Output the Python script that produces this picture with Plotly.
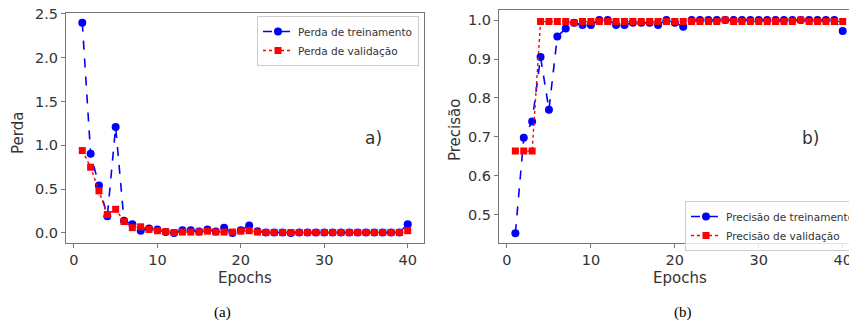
import plotly.graph_objects as go

W, H = 849, 324

epochs = list(range(1, 41))
train_loss = [2.40, 0.905, 0.54, 0.19, 1.21, 0.14, 0.10, 0.025, 0.05, 0.04,
              0.01, 0.0, 0.03, 0.03, 0.015, 0.04, 0.015, 0.06, 0.0, 0.03,
              0.085, 0.02, 0.005, 0.005, 0.005, 0.0, 0.005, 0.005, 0.005, 0.005,
              0.005, 0.005, 0.005, 0.005, 0.005, 0.005, 0.005, 0.005, 0.005, 0.10]
val_loss = [0.94, 0.75, 0.48, 0.21, 0.27, 0.13, 0.06, 0.07, 0.04, 0.025,
            0.015, 0.005, 0.01, 0.01, 0.01, 0.02, 0.01, 0.01, 0.01, 0.02,
            0.025, 0.01, 0.005, 0.005, 0.005, 0.005, 0.005, 0.005, 0.005, 0.005,
            0.005, 0.005, 0.005, 0.005, 0.005, 0.005, 0.005, 0.005, 0.005, 0.025]
train_acc = [0.453, 0.698, 0.74, 0.905, 0.77, 0.958, 0.978, 0.993, 0.987, 0.987,
             1.0, 1.0, 0.987, 0.987, 0.993, 0.993, 0.993, 0.987, 1.0, 0.993,
             0.983, 1.0, 1.0, 1.0, 1.0, 1.0, 1.0, 1.0, 1.0, 1.0,
             1.0, 1.0, 1.0, 1.0, 1.0, 1.0, 1.0, 1.0, 1.0, 0.972]
val_acc = [0.664, 0.664, 0.664, 0.996, 0.996, 0.996, 0.996, 0.993, 0.996, 0.996,
           0.996, 0.996, 0.996, 0.996, 0.996, 0.996, 0.996, 0.996, 0.996, 0.996,
           0.996, 0.996, 0.996, 0.996, 0.996, 1.0, 0.996, 0.996, 0.996, 0.996,
           0.996, 0.996, 0.996, 0.996, 1.0, 0.996, 0.996, 0.996, 0.996, 0.996]

x_ticks = [0, 10, 20, 30, 40]
loss_ticks = [0.0, 0.5, 1.0, 1.5, 2.0, 2.5]
acc_ticks = [0.5, 0.6, 0.7, 0.8, 0.9, 1.0]

FONT = "DejaVu Sans"
TXT = "#333333"
SPINE = "#777777"

fig = go.Figure()

blue_line = dict(color="blue", width=1.6, dash="dash")
red_line = dict(color="red", width=1.4, dash="dot")
blue_mk = dict(symbol="circle", size=8, color="blue")
red_mk = dict(symbol="square", size=7, color="red")

fig.add_trace(go.Scatter(x=epochs, y=train_loss, mode="lines+markers", name="Perda de treinamento",
                         line=blue_line, marker=blue_mk, xaxis="x", yaxis="y", legend="legend"))
fig.add_trace(go.Scatter(x=epochs, y=val_loss, mode="lines+markers", name="Perda de validação",
                         line=red_line, marker=red_mk, xaxis="x", yaxis="y", legend="legend"))
fig.add_trace(go.Scatter(x=epochs, y=train_acc, mode="lines+markers", name="Precisão de treinamento",
                         line=blue_line, marker=blue_mk, xaxis="x2", yaxis="y2", legend="legend2"))
fig.add_trace(go.Scatter(x=epochs, y=val_acc, mode="lines+markers", name="Precisão de validação",
                         line=red_line, marker=red_mk, xaxis="x2", yaxis="y2", legend="legend2"))

def px_x(p):
    return p / W

def px_y(p):
    return 1 - p / H

axis_common = dict(showline=True, mirror=True, linecolor=SPINE, linewidth=1,
                   ticks="outside", ticklen=4, tickcolor=SPINE, showgrid=False, zeroline=False,
                   ticklabeloverflow="allow",
                   tickfont=dict(family=FONT, size=14.5, color=TXT))

fig.update_layout(
    width=W, height=H,
    margin=dict(l=0, r=0, t=0, b=0, autoexpand=False),
    paper_bgcolor="white", plot_bgcolor="white",
    xaxis=dict(domain=[px_x(66), px_x(424)], range=[-0.95, 41.95], tickvals=x_ticks,
               anchor="y", **axis_common),
    yaxis=dict(domain=[px_y(243), px_y(13)], range=[-0.115, 2.51], tickvals=loss_ticks,
               tickformat=".1f", anchor="x", **axis_common),
    xaxis2=dict(domain=[px_x(499), 1.0], range=[-0.95, 40.75], tickvals=x_ticks,
                anchor="y2", **axis_common),
    yaxis2=dict(domain=[px_y(243), px_y(9.5)], range=[0.428, 1.027], tickvals=acc_ticks,
                tickformat=".1f", anchor="x2", **axis_common),
    legend=dict(x=px_x(419), y=px_y(16), xanchor="right", yanchor="top",
                bordercolor="#cccccc", borderwidth=1, bgcolor="rgba(255,255,255,0.8)",
                font=dict(family=FONT, size=10.5, color=TXT), tracegroupgap=0,
                itemwidth=30),
    legend2=dict(x=px_x(685), y=px_y(201), xanchor="left", yanchor="top",
                 bordercolor="#cccccc", borderwidth=1, bgcolor="rgba(255,255,255,0.8)",
                 font=dict(family=FONT, size=10.5, color=TXT), tracegroupgap=0,
                 itemwidth=30),
    showlegend=True,
)

ann = [
    dict(text="Perda", x=px_x(18), y=px_y(133), textangle=-90, font=dict(size=15)),
    dict(text="Precisão", x=px_x(455), y=px_y(130), textangle=-90, font=dict(size=15)),
    dict(text="Epochs", x=px_x(245), y=px_y(278), font=dict(size=15)),
    dict(text="Epochs", x=px_x(680), y=px_y(278), font=dict(size=15)),
    dict(text="a)", x=px_x(373), y=px_y(138), font=dict(size=17)),
    dict(text="b)", x=px_x(810), y=px_y(138), font=dict(size=17)),
]
for a in ann:
    fig.add_annotation(xref="paper", yref="paper", x=a["x"], y=a["y"], text=a["text"],
                       showarrow=False, textangle=a.get("textangle", 0),
                       xanchor="center", yanchor="middle",
                       font=dict(family=FONT, size=a["font"]["size"], color=TXT))

for txt, cx in [("(a)", 222), ("(b)", 683)]:
    fig.add_annotation(xref="paper", yref="paper", x=px_x(cx), y=px_y(312), text=txt,
                       showarrow=False, xanchor="center", yanchor="middle",
                       font=dict(family="Liberation Serif", size=15, color="black"))

fig.write_html("out.html", config={"displayModeBar": False},
               post_script="document.body.style.margin='0';document.body.style.padding='0';"
                           "document.body.style.overflow='hidden';")
